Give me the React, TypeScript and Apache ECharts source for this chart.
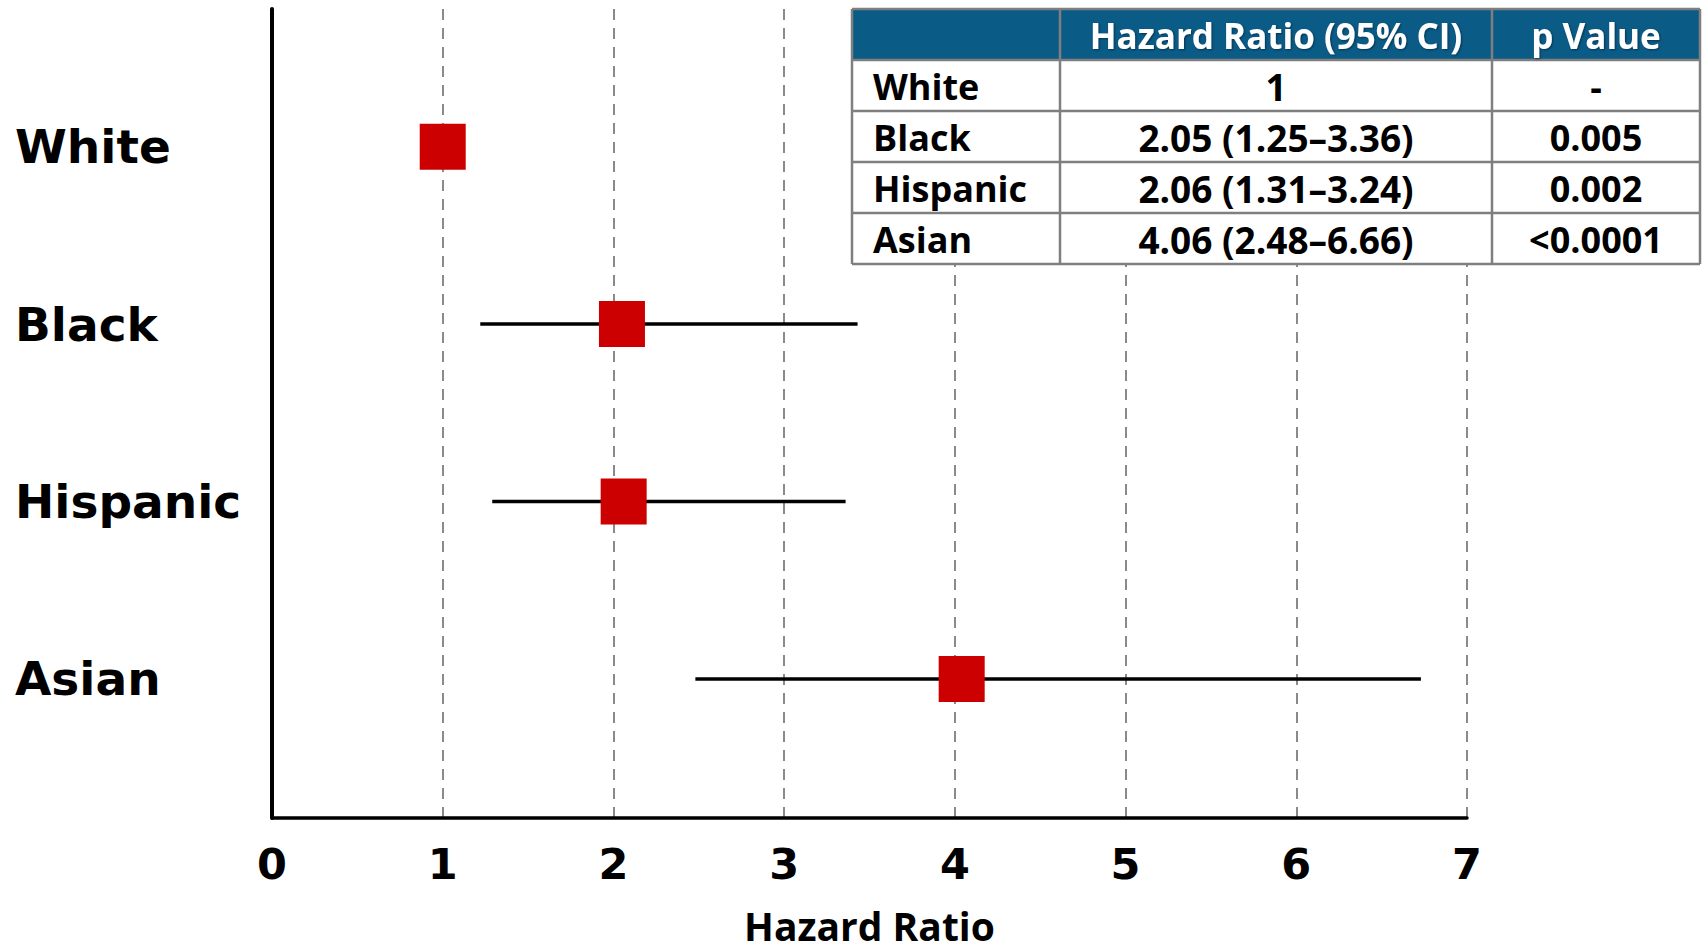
import React, { useEffect, useRef } from "react";
import * as echarts from "echarts";

const categories = ["White", "Black", "Hispanic", "Asian"];
const catPos = [4, 3, 2, 1];
const hazard = [1, 2.05, 2.06, 4.04];
const ciLow: (number | null)[] = [null, 1.22, 1.29, 2.48];
const ciHigh: (number | null)[] = [null, 3.43, 3.36, 6.73];
const xTickMin = 0;
const xTickMax = 7;
const tableHeader = ["", "Hazard Ratio (95% CI)", "p Value"];
const hrText = ["1", "2.05 (1.25–3.36)", "2.06 (1.31–3.24)", "4.06 (2.48–6.66)"];
const pText = ["-", "0.005", "0.002", "<0.0001"];

const CAL = '"Open Sans", "Noto Sans", sans-serif';
const WIDE = '"DejaVu Sans", sans-serif';

function buildTable() {
  const colX = [852, 1060, 1492, 1700];
  const top = 9;
  const rowH = 51;
  const nRows = categories.length + 1;
  const Z = 100;
  const children: any[] = [];
  children.push({
    type: "rect",
    z: Z,
    shape: { x: colX[0], y: top, width: colX[3] - colX[0], height: rowH * nRows },
    style: { fill: "#ffffff" },
  });
  children.push({
    type: "rect",
    z: Z,
    shape: { x: colX[0], y: top, width: colX[3] - colX[0], height: rowH },
    style: { fill: "#0B5B87" },
  });
  const border = { stroke: "#7F7F7F", lineWidth: 2.5 };
  for (let r = 0; r <= nRows; r++) {
    children.push({
      type: "line",
      z: Z + 1,
      shape: { x1: colX[0], y1: top + r * rowH, x2: colX[3], y2: top + r * rowH },
      style: border,
    });
  }
  for (let c = 0; c < colX.length; c++) {
    children.push({
      type: "line",
      z: Z + 1,
      shape: { x1: colX[c], y1: top, x2: colX[c], y2: top + nRows * rowH },
      style: border,
    });
  }
  for (let c = 1; c < 3; c++) {
    children.push({
      type: "text",
      z: Z + 2,
      style: {
        text: tableHeader[c],
        x: (colX[c] + colX[c + 1]) / 2,
        y: top + rowH / 2 + 1,
        fill: "#ffffff",
        fontSize: 35,
        fontWeight: "bold",
        fontFamily: CAL,
        align: "center",
        verticalAlign: "middle",
        textShadowColor: "rgba(0,0,0,0.45)",
        textShadowBlur: 2,
        textShadowOffsetX: 1,
        textShadowOffsetY: 1,
      },
    });
  }
  categories.forEach((name, i) => {
    const cy = top + (i + 1) * rowH + rowH / 2 + 1;
    const base = {
      fill: "#000000",
      fontSize: 36,
      fontWeight: "bold",
      fontFamily: CAL,
      verticalAlign: "middle",
    };
    children.push({ type: "text", z: Z + 2, style: { ...base, text: name, x: colX[0] + 21, y: cy, align: "left" } });
    children.push({
      type: "text",
      z: Z + 2,
      style: { ...base, fontSize: 37, text: hrText[i], x: (colX[1] + colX[2]) / 2, y: cy, align: "center" },
    });
    children.push({
      type: "text",
      z: Z + 2,
      style: { ...base, text: pText[i], x: (colX[2] + colX[3]) / 2, y: cy, align: "center" },
    });
  });
  return children;
}

export default function App() {
  const ref = useRef<HTMLDivElement>(null);
  useEffect(() => {
    if (!ref.current) return;
    const chart = echarts.init(ref.current, null, { renderer: "svg" });
    const ciData = categories
      .map((_, i) => (ciLow[i] != null ? [ciLow[i], catPos[i], ciHigh[i]] : null))
      .filter((d) => d != null);
    const pointData = categories.map((_, i) => [hazard[i], catPos[i]]);
    chart.setOption({
      animation: false,
      backgroundColor: "#ffffff",
      grid: { left: 272, top: 9, width: 1195, height: 809, containLabel: false },
      xAxis: {
        type: "value",
        min: xTickMin,
        max: xTickMax,
        interval: 1,
        axisLine: { show: true, lineStyle: { color: "#000", width: 3.5 } },
        axisTick: { show: false },
        splitLine: { show: true, lineStyle: { color: "#8A8A8A", width: 2, type: [11, 8] } },
        axisLabel: {
          color: "#000",
          fontSize: 43,
          fontWeight: "bold",
          fontFamily: WIDE,
          margin: 24,
        },
        name: "Hazard Ratio",
        nameLocation: "middle",
        nameGap: 90,
        nameTextStyle: {
          color: "#000",
          fontSize: 39,
          lineHeight: 34,
          fontWeight: "bold",
          fontFamily: CAL,
        },
      },
      yAxis: {
        type: "value",
        min: 0.216,
        max: 4.776,
        axisLine: { show: true, lineStyle: { color: "#000", width: 4 } },
        axisTick: { show: false },
        splitLine: { show: false },
        axisLabel: {
          color: "#000",
          fontSize: 47,
          fontWeight: "bold",
          fontFamily: WIDE,
          align: "left",
          margin: 257,
          formatter: (v: number) => {
            const idx = catPos.findIndex((c) => Math.abs(c - v) < 1e-6);
            return idx >= 0 ? categories[idx] : "";
          },
        },
      },
      series: [
        {
          type: "custom",
          data: ciData,
          encode: { x: [0, 2], y: 1 },
          renderItem: (params: any, api: any) => {
            const p1 = api.coord([api.value(0), api.value(1)]);
            const p2 = api.coord([api.value(2), api.value(1)]);
            return {
              type: "line",
              shape: { x1: p1[0], y1: p1[1], x2: p2[0], y2: p2[1] },
              style: { stroke: "#000", lineWidth: 3.5 },
            };
          },
          z: 2,
        },
        {
          type: "scatter",
          data: pointData,
          symbol: "rect",
          symbolSize: 46,
          itemStyle: { color: "#CC0000", opacity: 1 },
          z: 3,
        },
      ],
      graphic: [{ type: "group", children: buildTable() }],
    });
    return () => chart.dispose();
  }, []);
  return (
    <div
      ref={ref}
      style={{ position: "fixed", left: 0, top: 0, width: 1702, height: 952, background: "#fff" }}
    />
  );
}
